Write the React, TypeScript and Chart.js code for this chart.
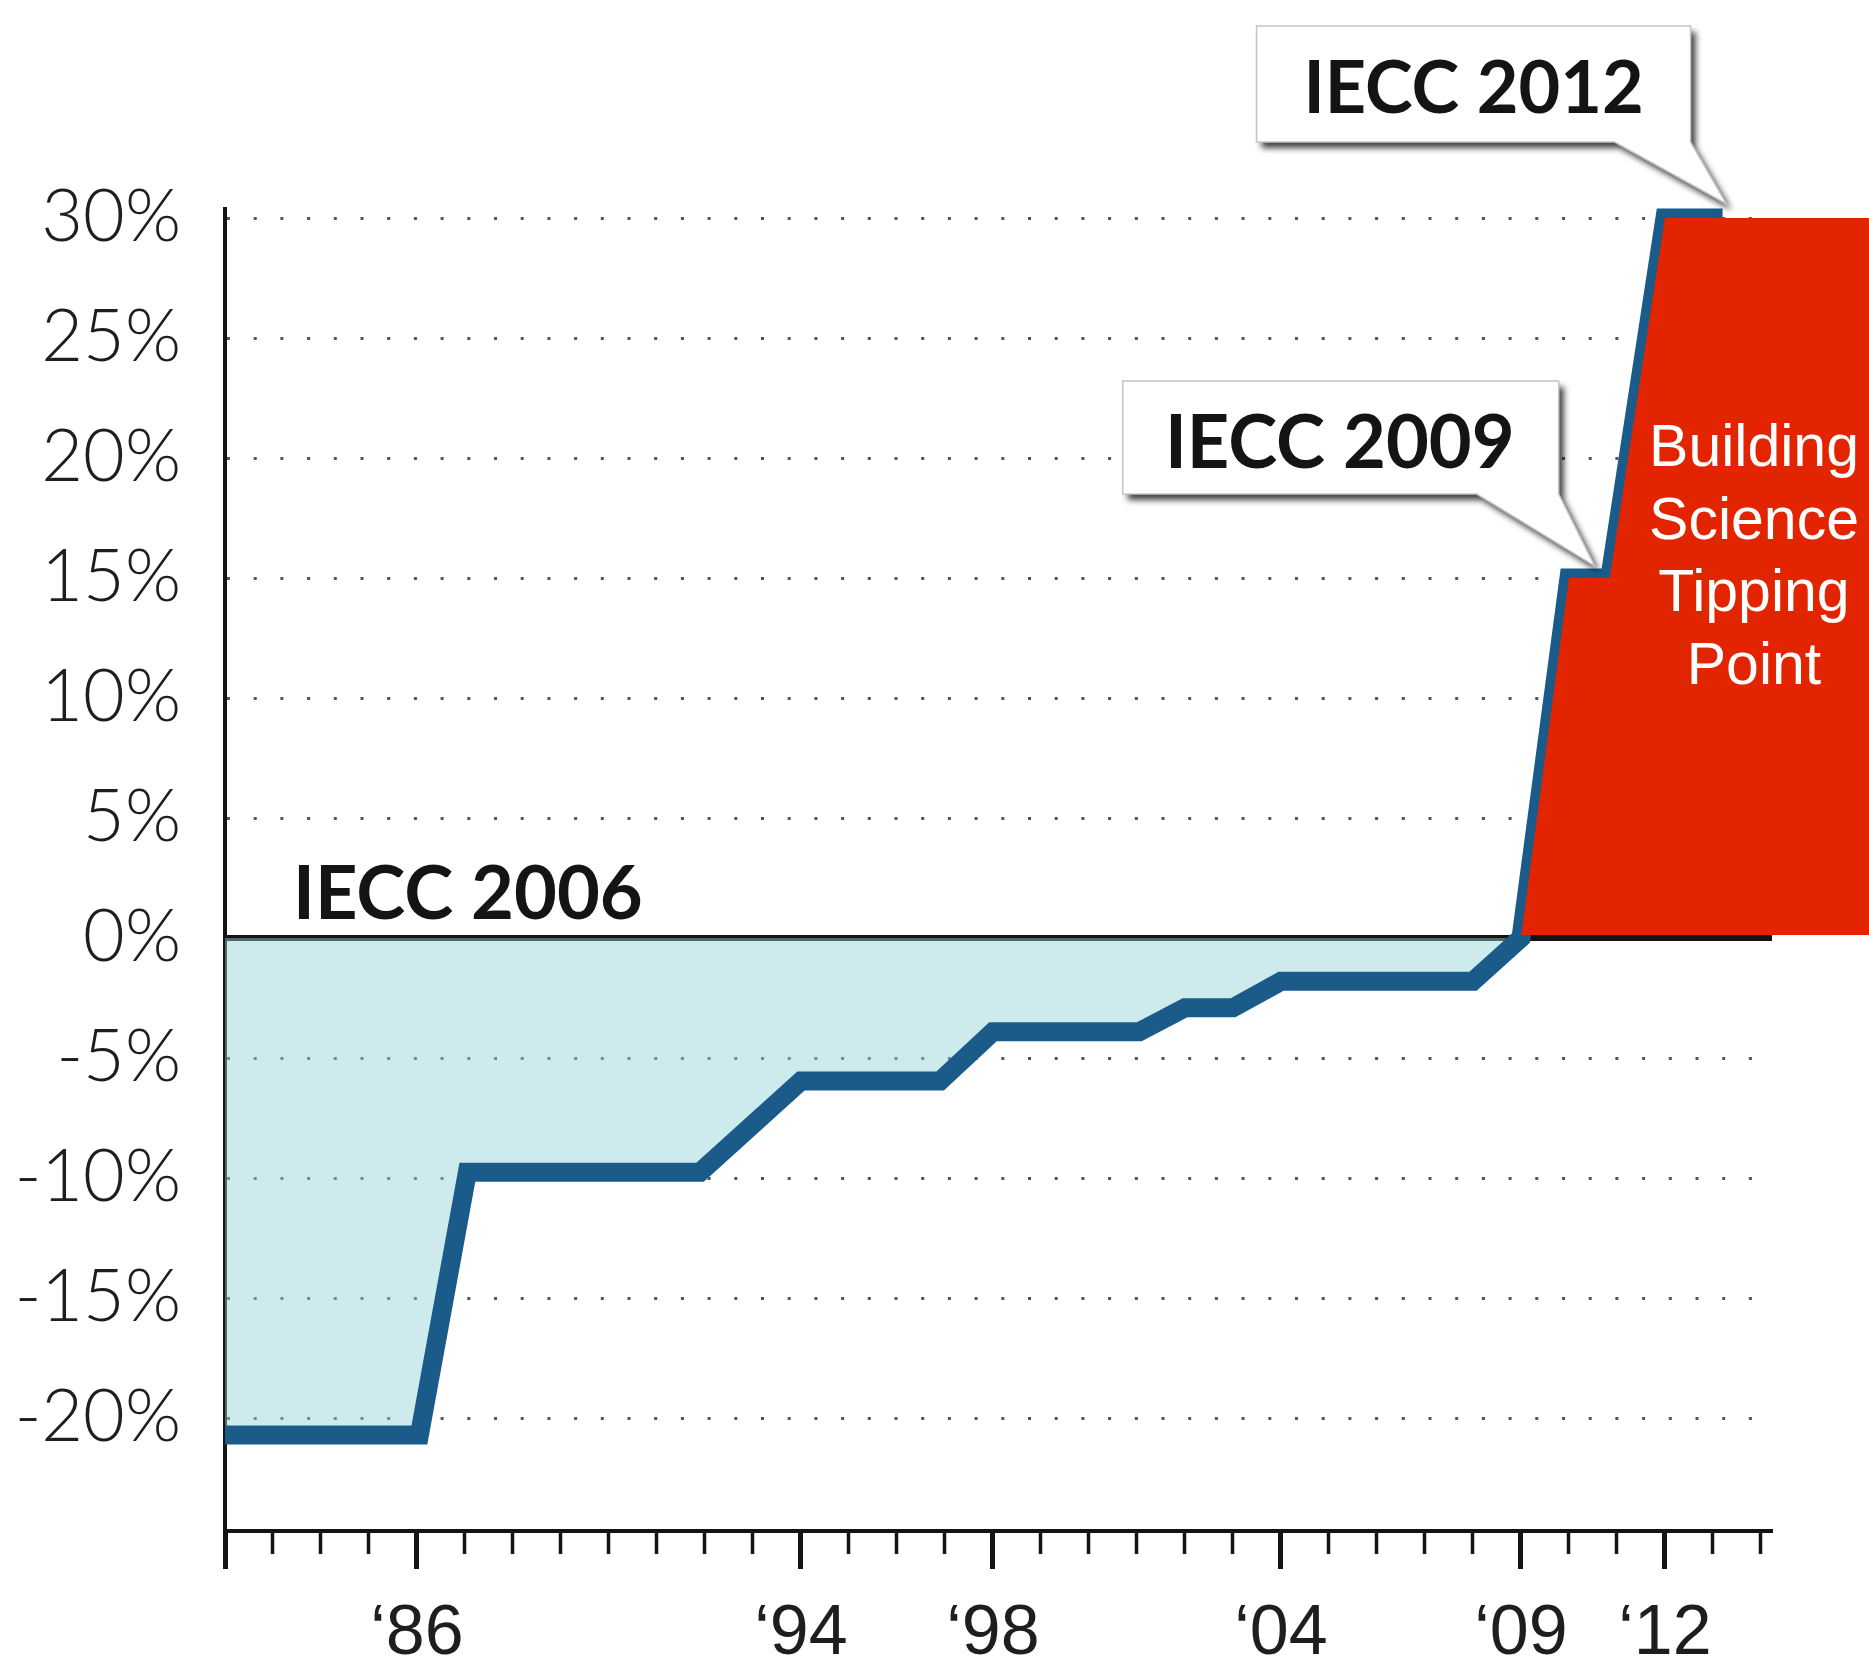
import React, { useEffect, useRef } from 'react';
import { Chart, registerables } from 'chart.js';

Chart.register(...registerables);

// Energy savings relative to IECC 2006, by code year (step profile)
const years = [1982, 1986.05, 1987.05, 1991.9, 1994, 1996.9, 1998, 2001.05, 2002, 2003, 2004, 2008, 2009, 2010, 2010.85, 2012, 2013.2];
const savings = [-20.7, -20.7, -9.75, -9.75, -5.95, -5.95, -3.9, -3.9, -2.9, -2.9, -1.8, -1.8, 0, 15, 15, 30, 30];

const yTicks = [30, 25, 20, 15, 10, 5, 0, -5, -10, -15, -20];
const yMin = -24.7;
const yMax = 30.375;
const xMin = 1982;
const xMax = 2014.23;
const xTickFirst = 1982;
const xTickLast = 2014;
const labeledYears = [1986, 1994, 1998, 2004, 2009, 2012];

// Span of the "tipping point" region along the series
const tippingFrom = 2009;
const tippingTo = 2012;
const tippingLines = ['Building', 'Science', 'Tipping', 'Point'];

// Callout anchors on the series
const calloutTexts = ['IECC 2012', 'IECC 2009'];
const calloutYears = [2013.2, 2010.85];
const calloutValues = [30, 15];
const baselineLabel = 'IECC 2006';

// Layout of the speech-bubble callouts, relative to their pointer tip
const calloutLayout = [
  { dx: 4, dy: -14, left: -470, right: -36, top: -178, bottom: -62, base: -112, tx: -253, ty: -91, size: 72 },
  { dx: -15, dy: -12, left: -472, right: -36, top: -185, bottom: -72, base: -118, tx: -255, ty: -98, size: 74 },
];

const BLUE = '#1b5b8a';
const RED = '#e22500';
const INK = '#141414';
const ZERO_LINE_WIDTH = 6;

function drawCallout(ctx: CanvasRenderingContext2D, tipX: number, tipY: number, l: typeof calloutLayout[number], text: string) {
  ctx.save();
  ctx.beginPath();
  ctx.moveTo(tipX + l.left, tipY + l.top);
  ctx.lineTo(tipX + l.right, tipY + l.top);
  ctx.lineTo(tipX + l.right, tipY + l.bottom);
  ctx.lineTo(tipX, tipY);
  ctx.lineTo(tipX + l.base, tipY + l.bottom);
  ctx.lineTo(tipX + l.left, tipY + l.bottom);
  ctx.closePath();
  ctx.shadowColor = 'rgba(0,0,0,0.75)';
  ctx.shadowBlur = 6;
  ctx.shadowOffsetX = 5;
  ctx.shadowOffsetY = 6;
  ctx.fillStyle = '#ffffff';
  ctx.fill();
  ctx.shadowColor = 'rgba(0,0,0,0)';
  ctx.strokeStyle = '#c4c4c4';
  ctx.lineWidth = 1.5;
  ctx.stroke();
  ctx.fillStyle = INK;
  ctx.font = `700 ${l.size}px Lato`;
  ctx.textAlign = 'center';
  ctx.textBaseline = 'alphabetic';
  ctx.fillText(text, tipX + l.tx, tipY + l.ty);
  ctx.restore();
}

const overlayPlugin = {
  id: 'overlay',
  afterDatasetsDraw(chart: any) {
    const { ctx, chartArea } = chart;
    const xs = chart.scales.x;
    const ys = chart.scales.y;

    // Tipping-point region: follows the series, then runs to the page edge,
    // resting on top of the zero line
    const idx = years.map((_, i) => i).filter((i) => years[i] >= tippingFrom && years[i] <= tippingTo);
    const topVal = savings[idx[idx.length - 1]];
    const bottomVal = savings[idx[0]];
    const bottomY = ys.getPixelForValue(bottomVal) - ZERO_LINE_WIDTH / 2;
    ctx.save();
    ctx.beginPath();
    ctx.moveTo(xs.getPixelForValue(years[idx[0]]), bottomY);
    idx.forEach((i) => {
      ctx.lineTo(xs.getPixelForValue(years[i]), ys.getPixelForValue(savings[i]));
    });
    ctx.lineTo(chart.width, ys.getPixelForValue(topVal));
    ctx.lineTo(chart.width, bottomY);
    ctx.closePath();
    ctx.fillStyle = RED;
    ctx.fill();

    ctx.fillStyle = '#ffffff';
    ctx.font = '400 59px "Liberation Sans", Arial, sans-serif';
    ctx.textAlign = 'center';
    ctx.textBaseline = 'alphabetic';
    const cx = chartArea.right - 18;
    const y15 = ys.getPixelForValue(15);
    tippingLines.forEach((t, i) => {
      ctx.fillText(t, cx, y15 - 112 + i * 72.5);
    });

    // Baseline label above the zero line
    ctx.fillStyle = INK;
    ctx.font = '700 74px Lato';
    ctx.textAlign = 'left';
    ctx.fillText(baselineLabel, chartArea.left + 68, ys.getPixelForValue(0) - 19);
    ctx.restore();

    calloutTexts.forEach((t, i) => {
      const l = calloutLayout[i];
      const tipX = xs.getPixelForValue(calloutYears[i]) + l.dx;
      const tipY = ys.getPixelForValue(calloutValues[i]) + l.dy;
      drawCallout(ctx, tipX, tipY, l, t);
    });
  },
};

const isMajor = (v: number) => v === xTickFirst || labeledYears.includes(v);

export default function App() {
  const ref = useRef<HTMLCanvasElement>(null);

  useEffect(() => {
    if (!ref.current) return;
    const chart = new Chart(ref.current, {
      type: 'line',
      data: {
        datasets: [
          {
            data: years.map((x, i) => ({ x, y: savings[i] })),
            borderColor: BLUE,
            borderWidth: 19,
            pointRadius: 0,
            tension: 0,
            borderJoinStyle: 'miter',
            borderCapStyle: 'butt',
            fill: { target: 'origin', above: 'rgba(0,0,0,0)', below: 'rgba(145,210,214,0.45)' },
            clip: false,
          } as any,
        ],
      },
      options: {
        responsive: false,
        animation: false,
        devicePixelRatio: 1,
        layout: { padding: { top: 209, right: 97, left: 0, bottom: 0 } },
        plugins: {
          legend: { display: false },
          tooltip: { enabled: false },
          filler: { drawTime: 'beforeDatasetDraw' } as any,
        },
        scales: {
          x: {
            type: 'linear',
            min: xMin,
            max: xMax,
            afterBuildTicks: (s: any) => {
              const t = [];
              for (let v = xTickFirst; v <= xTickLast; v++) t.push({ value: v });
              s.ticks = t;
            },
            afterFit: (s: any) => {
              s.height = 142;
            },
            grid: {
              drawOnChartArea: false,
              drawTicks: true,
              tickLength: 38,
              tickColor: INK,
              tickWidth: (c: any) => (c.tick && isMajor(c.tick.value) ? 5 : 3.5),
              tickBorderDash: (c: any) => (c.tick && isMajor(c.tick.value) ? [] : [21, 100]),
            } as any,
            border: { display: true, color: INK, width: 4 },
            ticks: {
              autoSkip: false,
              maxRotation: 0,
              padding: 24,
              color: '#1e1e1e',
              font: { family: '"Liberation Sans", Arial, sans-serif', size: 70 },
              callback: (v: any) => (labeledYears.includes(v) ? '\u2018' + String(v).slice(2) : ''),
            },
          },
          y: {
            type: 'linear',
            min: yMin,
            max: yMax,
            afterBuildTicks: (s: any) => {
              s.ticks = yTicks.map((v) => ({ value: v }));
            },
            afterFit: (s: any) => {
              s.width = 225;
            },
            grid: {
              drawTicks: false,
              color: (c: any) => (c.tick && c.tick.value === 0 ? INK : '#555555'),
              lineWidth: (c: any) => (c.tick && c.tick.value === 0 ? ZERO_LINE_WIDTH : 3),
            },
            border: {
              display: true,
              color: INK,
              width: 4,
              dash: (c: any) => (c.tick && c.tick.value === 0 ? [] : [3, 23.7]),
            } as any,
            ticks: {
              padding: 44,
              color: '#1e1e1e',
              font: { family: 'Lato', size: 72, weight: 300 as any },
              callback: (v: any) => `${v}%`,
            },
          },
        },
      },
      plugins: [overlayPlugin],
    });
    return () => chart.destroy();
  }, []);

  return (
    <div style={{ position: 'fixed', left: 0, top: 0, width: 1869, height: 1673, background: '#ffffff' }}>
      <canvas ref={ref} width={1869} height={1673} style={{ display: 'block', width: 1869, height: 1673 }} />
    </div>
  );
}
